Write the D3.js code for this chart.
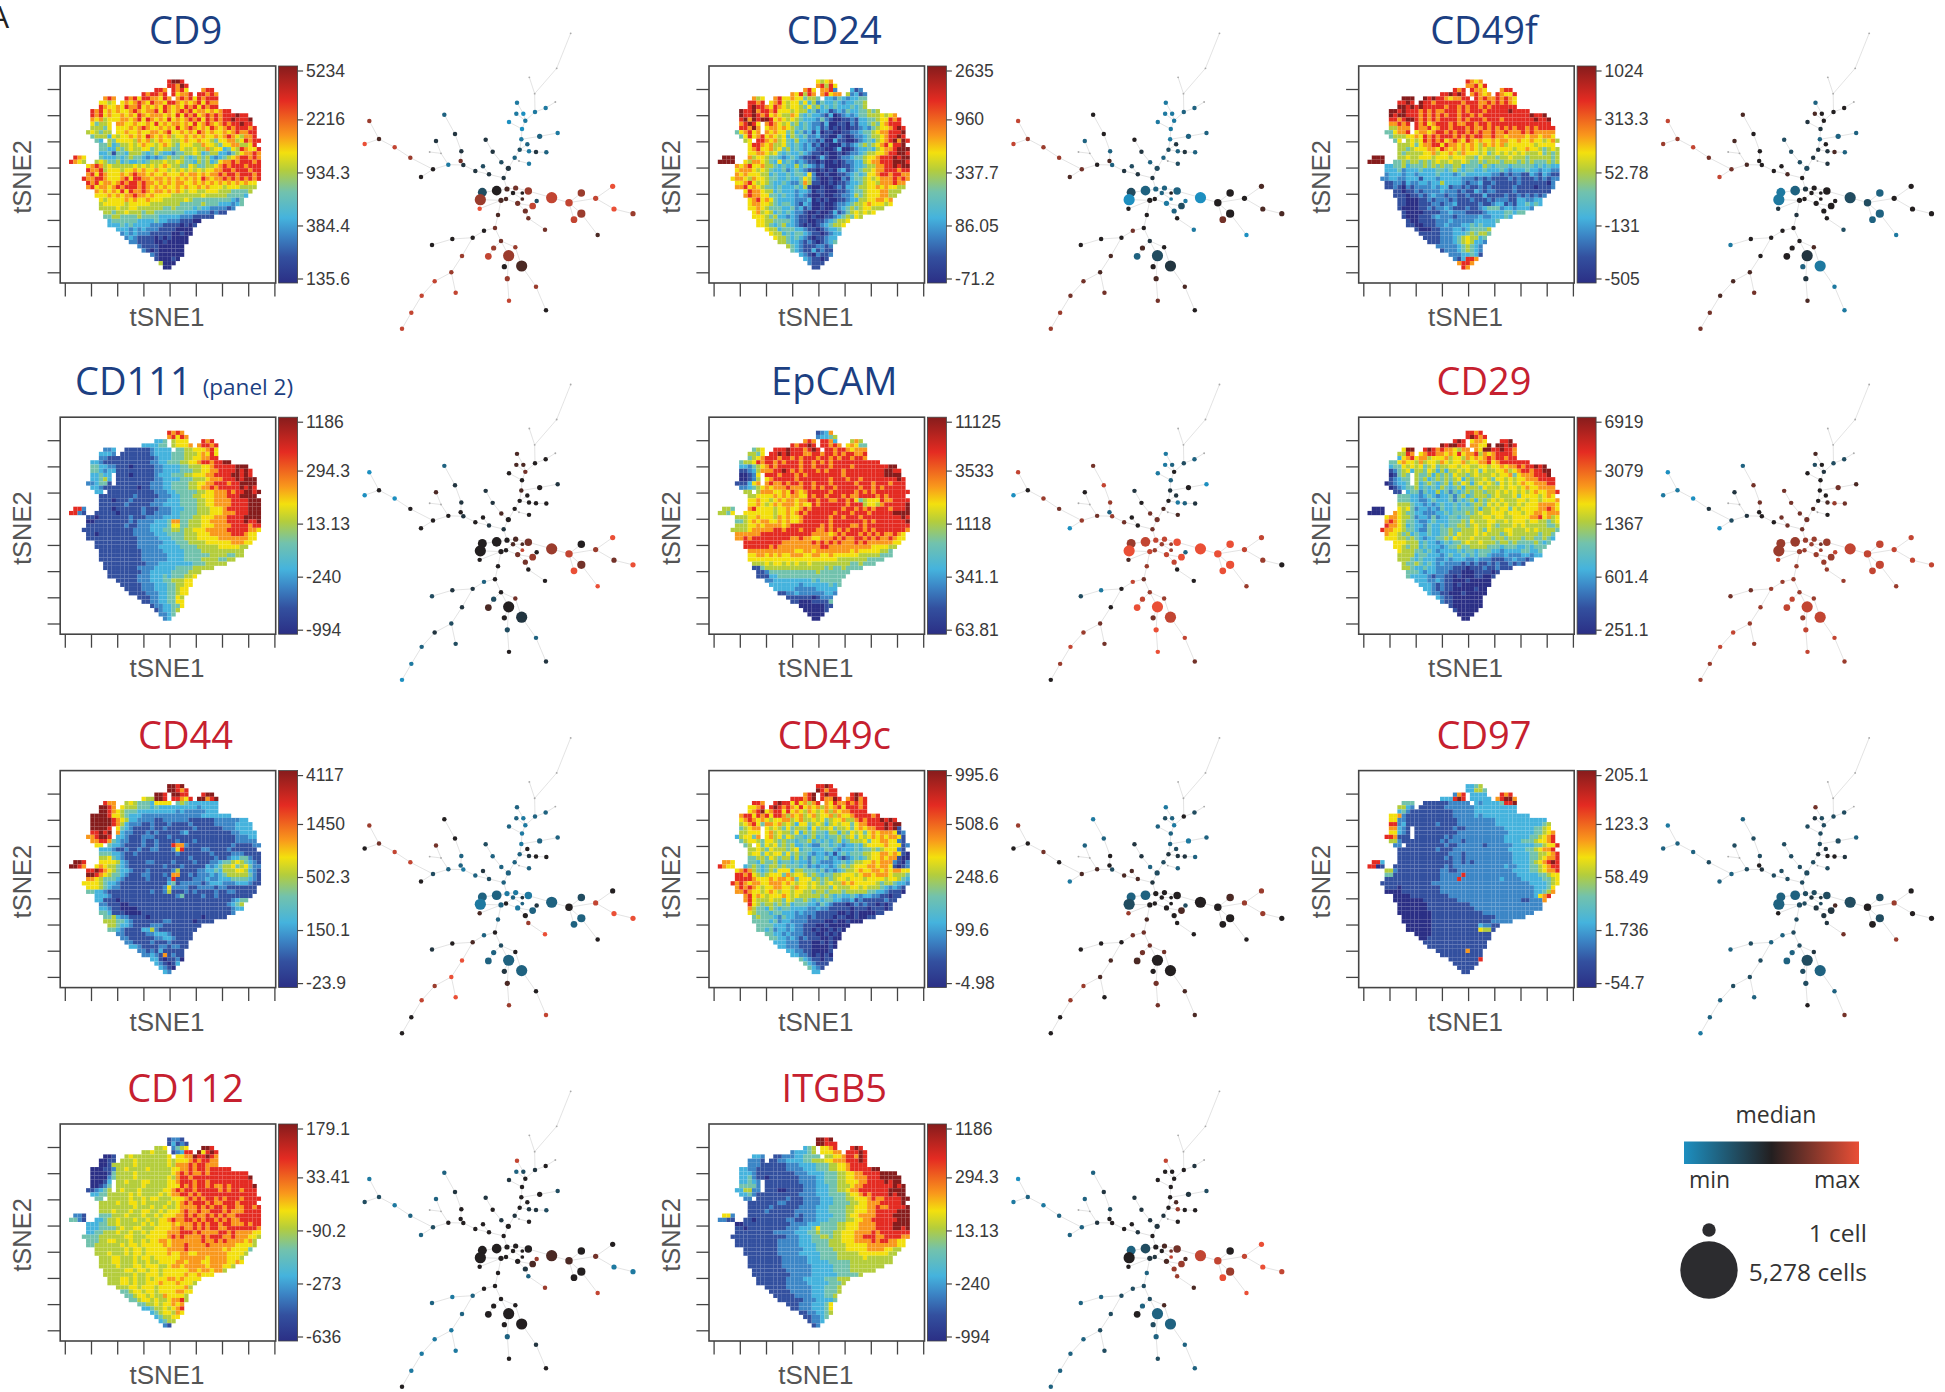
<!DOCTYPE html>
<html><head><meta charset="utf-8">
<script src="https://cdnjs.cloudflare.com/ajax/libs/d3/7.8.5/d3.min.js"></script>
<style>html,body{margin:0;padding:0;background:#fff}svg{display:block}</style>
</head><body><svg id="c" width="1945" height="1392"></svg>
<script>
const markers=["CD9","CD24","CD49f","CD111","EpCAM","CD29","CD44","CD49c","CD97","CD112","ITGB5"];
const titleIsRed=[0,0,0,0,0,1,1,1,1,1,1];
const colorbarLabels=[
["5234","2216","934.3","384.4","135.6"],["2635","960","337.7","86.05","-71.2"],["1024","313.3","52.78","-131","-505"],
["1186","294.3","13.13","-240","-994"],["11125","3533","1118","341.1","63.81"],["6919","3079","1367","601.4","251.1"],
["4117","1450","502.3","150.1","-23.9"],["995.6","508.6","248.6","99.6","-4.98"],["205.1","123.3","58.49","1.736","-54.7"],
["179.1","33.41","-90.2","-273","-636"],["1186","294.3","13.13","-240","-994"]];
const colorbarFractions=[0,.235,.49,.745,1];
const xTickValues=[-40,-30,-20,-10,0,10,20,30,40];
const yTickValues=[-40,-30,-20,-10,0,10,20,30];
const heatPalette=["#2b2f85","#33509f","#3c86c6","#45b3dd","#72c2ad","#b4cd3c","#f3e00e","#f9981c","#e42b22","#861c1c"];
const barStops=[0,.12,.22,.30,.42,.52,.60,.68,.84,1];

// occupied columns of the tSNE map, row by row
const mapSegments=[[[23,26]],[[23,27]],[[20,22],[24,27],[31,33]],[[17,22],[24,28],[30,34]],[[8,10],[13,23],[25,34]],[[7,10],[12,24],[25,34]],[[7,34]],[[5,37]],[[5,41]],[[5,42]],[[5,9],[11,42]],[[5,9],[11,43]],[[4,9],[11,43]],[[5,43]],[[6,7],[9,44]],[[7,43]],[[7,44]],[[7,44]],[[1,3],[7,44]],[[0,3],[6,44]],[[4,44]],[[4,44]],[[4,44]],[[3,44]],[[4,43]],[[4,43]],[[6,42]],[[6,41]],[[7,40]],[[7,40]],[[7,38]],[[8,36]],[[8,33]],[[9,30]],[[9,29]],[[11,28]],[[12,28]],[[13,27]],[[14,27]],[[16,26]],[[17,26]],[[19,26]],[[20,25]],[[21,24]],[[22,23]]];

const heatCD9=["8998","88798","88778786677788","878878986778988787","787668786887768777878687888","656767678768776887676786877","8766768778676768767687868788","878676766787677868767878677676788","8786766767687677767686878678787888988","76756667767868767686767878687878898889","64556677667667686767767686787678788988","55465666767876676768678767687678788878","5654556667667667767866767687676676787788","455536566767687676756676767667678765778","432546666576756766556766766546677568788","4453455656766567654666557665466775568","44335456556645655446556557566346587668","33414435554345433244556534553324567787","87644443334345443232345445434545323456788787","876555565445343343455565565443545346778788878","67875655555656565676554465445567878887888","87785666566767667665656565656677887888788","78687666767877676676667677676778788788878","877887666786887767767676767687677878787878","8786776787887877676767766767676767676766","7867767878887876767667676676766656665555","7676768687787677676765665566655544445","666767677877676666555555565555544443","6566667676676665555565444444444324","5666665666665555555444445444333234","55556556655555544544443433222212","55455655545544444443332221211","44554444544443333322211111","3444444333343322211100","333434333322211110101","333232322211110000","23232221111100100","232111101010000","22111100100000","21111000000","2101000000","21000000","100010","5000","00"];
const heatCD24=["6567","78586","78637782213312","768587678677652312","756887866766455433324323344","878867865664635243343233445","8988768765665464534343334345","988978878666565534233123243344545","9889878676557643433213012323445556567","89798998676565433324210011213344566878","78986878765645343221300110213345467888","87978677676543432312010101123245667898","4678678767664534231301100112234456778889","468678676563543422311002101223455678898","567887675643533221200311001234356789798","6887675564343231201000212345456786889","67866756453432321100130012334356778999","66776564343343211010010122345566788998","99977675665443234321101310012234456678889899","999988657765436343232110100101223356778889998","76786675543433534321200001123345577889899","67776565433423432110101023123455677888788","76766655343343443620010011234346678878877","677657665443343346521001002134456567778787","6678656543343224751100101123345665777877","7786765443433343510010012133455667676655","6877655343332332011000112344566677555","787766443433232100100112235456667755","6786764333322230101001123355667767","6776654344321320010012234556766656","66765444334231200100123454566555","67565343432210010013124565656","66654533232110100112345465","6655444432110011234556","665434533210101234556","655344433211012334","65534344321101233","655434321011233","55433212101234","54321112212","4321131211","32102112","321101","2111","11"];
const heatCD49f=["8767","77868","87888776788788","889898778767787668","999889898876778878787787876","898998878888887888778787876","9989898888878878788787888888","998988878787788878788878888898888","9899888787878788788787888888888889889","88789987878788887878887888788888889889","77878887867888787788788788888888888888","57777877867887888787787878787887878888","467787677678878788787877877877787877777","455566768787888787878877877677776776776","464565687878678768767667677667667665675","5556467788687767676576767566666656666","55456667768767676765655666656676654565","54555566756676576665645656565655564545","99945555655666566656665546555455655545555545","999944445455454565565565445455545554545444545","33445344454545445534443543444344444343433","33342333433344345434433433343233343323322","23332332333343332343333332212122113213211","223322333133323333322212121111212111212122","1122132233233533332122311211111211111102","1121021222232331221211212111112111101112","1101121222232221211321221111211111111","111011212322122112111311112112121212","1100011212221211121112122211332233","1100011122122311111211233121334343","10000112122321112112344423323332","10000111122322211112333344344","10001112322212222232233343","1001111222322222333334","110011122322233434333","100011222332344445","11111222333454554","111122234565534","11122234565332","22222345432","1222345432","22233431","213887","7887","87"];
const heatCD111=["8787","78687","33455666788878","333344556667678878","23211111112333344455666786","33211111111233344455567686","2211111111111233344455667788","332111111111112233444556678878899","43322111011111223334455566788888999","432331111111112233344455667788889898","3433211101111123334445566677888899898","3453211111111122333444555677788898999","23441111111111222334445566778887889999","32111111110112223344445567787888889898","3311111111111222334444556677787889989","1111111211112223344455667778889999","1101112111122233344455667778888999","1111121111222333344455667778888999","82111111011111211122233344455666788888999","821111111101111211222233444455666777888999","101111111211122223334445566677788889999","011111111212222333474455566777788889889","111111112112223333464455566677778888788","1111111111122223334454556667777788888776","10111111112222233344455566677777888766","1111111111122223334445556666777777766","11111111222223334445556666677766","111111112222333344445555666655","11111112222333344455555555","111111122223334444555455","11111112222333444555455","111111122333333445555","11111122233334445555","111111223333444555","11111222334344556","1111222334455566","111122233445566","11122233344566","1112223344566","11122334465","1122334466","12233446","123345","2234","23"];
const heatEpCAM=["1237","23345","78788873645575","878898788787867644","456888889888789878878876777","546788989888778878878788778","4567888788787888788787887887","45568788787888788878787888888888888","32456787888887887887888878888888899","1235777889878788878788878888888889988","0126788878887878888888878888888889999","0125767888887888888788878878888888898","1136767877878788788878888788878887888","234567677787788787887888878878788888","5657776768767888878888787878888888","5666676767768788788878788887878888","6766567676778878878878645668778888","6765676776766878888878885657888889","5467778666656676678788888887887878788878889","5466666666665667678788888788878887888889999","55667666576767888888788788788888888898","45676776676767888888788888878788888889","55667677776788888878788887878888888888","555677777887887888778787878878788888887","7777788888888888777767878878787877876","7878888888887877667778787887878778766","8888888877777787878787787877777766","8888878777777777787777777777666655","7777777777677677777776766666554","6776767667766776676666655555444","6666666666666666665555554444","556565656565555555545444","1455555555555545454444","124444444444454444444","1133444444444444444","2333333334344444","333333233333434","33332222233333","1223222222332","11111101222","1100011114","00000011","000001","0000","00"];
const heatCD29=["8878","89878","89866776789889","989988677669899898","699778987877657767699889887","587767887767686778576788887","3678677566675665767678788788","446766575665765667566778678888888","3446565645645566566556656676778788989","12456355465353556565646556675678878899","01454654453545465545655565667467778889","123443545345454563545565466565667778888","0123345534543453546535656546565676677788","012344534343543453555465556566567667777","113344243353424345455455656565656766778","4443323432334245345554565556466665676","44433223433342434535456565556656656667","55543323234334343455465656556566677776","00055565642332324334344453556566465666677876","000055765443322233434445456556665666566776777","67765542332423344344555665665566667786756","78765443223433344454655566556566656655456","87765343324334344554565565455565655555445","877665443224334454455565465556655565655554","7665453433433445465556565554565555554554","6665545432334454655565555455455545544543","6665553433234344565565554554544445434","665455343332344544555544434443343444","6555443432333343443444332333344334","5555344333234334343443222322233233","55543433322323332232221112232212","54454343232222121211212112121","55433433222211101112112111","4443233222111000111101","433332122110100011001","333223211000100000","33321211010000000","332121100000100","32211000100000","32110000000","2110000000","10000000","100000","0000","00"];
const heatCD44=["9989","99878","99879988779899","655998988768899789","877655654443666654543333333","987765554443433333333323333","9987654443333333332322222333","99998665433322222222222222233333333","99998765332222112222211111122222233","9999875322211211121111211111222223333","9998864321111211211111121111112223333","8989873221112121111231111111111223333","7899883321112211121111111111111122233","78874322111211211112111211111111122222","6743321111211211187211111111112111122","3321121121121112681111211112111111","4433211211111111211111121112221111","5643211111111111112111112123344211","986676665321111211112111211122345654321","9876667654321111111211121111323456456422","898765432111211112511122334355665321","98765432111211121711212232345555421","7654432111121112811122232333444321","66654321111111113412222123322233211","6654321111111112622211222122111111","4332111111112112511212111211211111","332111111111111241112121111111","311101111111111111111111112344","2111011111111111111111112345","3211000111111111111111111233","431100011111111111111112","4532111011111111101111","5543211111211110111","5432111221111111","4321113521111111","2111123321111","211112232111","21112112111","3211121211","2121311111","232171211","33101120","321013","3210","32"];
const heatCD49c=["8898","98788","78988988779898","888789887798978978","887678988686757887687787878","678689878768676757678688878","6789678868676576567576778888","788687868875767567566757667888878","6787676566775675565645667557878889898","56786477675653664565356566467788889899","45677465654645553645564556467677889891","556664675655463545443553546564676777612","3566476675646544345343445456465676767761","456654665454434453434345345556466776621","456646564545334322443432334356666766612","5565465554563443334432333434454566621","56646566464544323323134344455667767610","44554654553534243342321234345667677100","77666644354453443433243222334345566767772102","876655345434554544434232332345456667767761012","67875434546663554443423234556766776767766","88786545666475665454344556665677677765554","88887666767767466645454566566656666566543","878767766777676566565456557676666654554332","7878765667766576656555465556656555432321","7787665676566566554554555455555443321110","7867656667656555554543433432332211011","786555655465445434344332231211111211","8654554545344433243211101212110101","7544354344333322322111110111011101","65444344333232221111100101000011","45444324332221211110110010011","44443423322221111001001000","4444333232211100100000","443423323221101001010","443323222111001010","44332321211100100","333222111001010","33222111000010","33221100001","3322101010","43211011","432111","4321","33"];
const heatCD97=["3345","33554","27833333389878","333898233333778997","4431111111222223233334889","53211111112222223333333333","3421111111111222223333333333","67211111111111222223233333333333","62211111111111122222222333333333333","82311111112111222222222333333333345","73211111111112112222222233333334456","63211111111111222222222223333344567","871111111111212222222222233333445678","5211111111121222122222222333344456678","21111111112112222212222223333445668","11111111211122222222222233334456778","11111111111221222222222233334455678","1111111112122122222222223334456778","83111111111111111221212222222233334567898","80111111111111112122222222222323334456788","52111111111121122222222222233334456778","411111111112222822222222222333344566","111111111122282222222322233334456","11111111112222222222222222222333456","1101111111122222222222222222233346","0001111111122222222222222222233457","00011111111222222222222222223678","00000111111122222222222212227","00000111111112222222222222","0000011111111222222222222","000001111111122222222","0000111111111122222","0000011111111112222","0000111111113211","00001111111651","00011111111111","0111111111111","111111111111","111111111111","1111117111","1111111111","11111118","111111","1111","11"];
const heatCD112=["1221","13121","55652456678998","556555612388996898","0125565555555656677988987","0115555655555565667878877","0015555565555555657778788777","0011255655556555566778788788888","0001455556555555567878787888888888","00024555565555556578878888888888889","00134556555655556678887878888888888","01245555556555556687878878787888889","1234555655565555667878878888787887888","344555556565556567788787888888888888","445555655656555667878787878878888","55565565655556567878878778878888","5555556556556567778787878878878","5565565565565667878778878778888","21734445556556556566778787878787888888","42133345565565565667878878787878788888","3344565555656566767787878788778788","3344456556555666778787878778888887","3445565565656667778878777887877766","44455555665566667878777878877877665","445565556565667677777787878777675","45555565656666767787778777776665","55555656566667778777777676664","5565565656666767767777776665","556556565666677776777665","55655656566676776777676","556556566567677767765","5556565656666767675","55556566566676766","5565656566767666","556565667667665","5565665666675","456565666766","45656576665","4565656785","4556566767","345565678","34566576","345566","3455","21"];
const heatITGB5=["9989","99888","34566678889898","233345566677888898","3221112223344455566788798","2211112233344555677788898","22111111222333444556678888","32211111112222333444556678888899","33211111111122233344455667788889999","34211011111122223344455677788899999","34321111111122223344455667788889899","44421111111112223344555677888888989","355221111011112223344556778888889999","3421111111112223334445667878889899","21111111211222333445566787788899","11111121111222333444556677888889","11112111112223334445566778788889","11121111122223334445566778888999","6211111111111112122233344456677788889999","2111111011111122122233344455667788888999","0111111111122223334445566677788889999","1011111111222333464445566677788889989","1111111122223334454455666777878888888","11111111111222333445455666778877888877","111111111222233344455566677787887766","111111112222333444555666677777766","1111112222233344455566667776655","11111122223333444555566666655","11111122223334445555655555","1111122223334445555555","11111222233344455555","1111122223334445555","111112223334445","11112223334455","1111222333445","111222233445","11122233445","1112223345","11122334","11223346","1223346","122345","12234","1223","12"];
const heatGrids=[heatCD9,heatCD24,heatCD49f,heatCD111,heatEpCAM,heatCD29,heatCD44,heatCD49c,heatCD97,heatCD112,heatITGB5];

// shared tree layout
const treeX=[692,650,584,568,646,585,617,531,529,550,556,507,546,544,599,653,562,539,567,588,619,524,567,537,505,484,458,437,491,447,429,406,370,362,364,345,313,325,288,303,269,279,243,211,164,117,88,74,427,470,421,419,501,527,565,519,547,483,498,547,533,578,590,556,565,615,635,687,724,767,818,822,879,724,702,773,474,465,432,398,337,276,366,334,284,245,214,186,347,483,461,526,445,506,545,493,502,507,588,618];
const treeY=[40,145,221,172,246,276,264,248,281,281,302,306,327,358,349,339,373,389,394,396,397,413,431,423,445,427,395,359,474,463,439,453,435,423,394,342,284,434,363,400,396,448,471,413,382,357,303,372,517,512,539,566,507,504,513,519,519,541,537,537,550,558,543,573,595,629,533,548,519,535,499,567,581,581,599,645,585,624,632,653,657,675,708,757,784,827,878,926,818,663,684,682,709,707,738,740,776,842,800,871];
const treeSize=[2.5,2.5,2.5,2.5,2.5,6,6,6,6,6,6,6,6,6,7,6,6,6,6,6,6,6,6,2.5,7,6,6,6,6,6,6,6,6,6,6,6,6,6,6,2.5,2.5,6,6,6,6,6,6,6,12,13,15,6,7,7,10,6,5,7,6,5,7,9,6,7,6,6,15,10,10,7,7,7,7,11,9,6,6,6,6,6,6,6,6,6,6,6,6,6,6,6,7,6,9,15,15,7,7,6,6,6];
const treeEdges=[[0,1],[1,2],[3,2],[2,5],[5,6],[6,4],[5,10],[10,9],[9,7],[8,10],[10,12],[12,11],[12,13],[13,14],[14,15],[13,17],[17,16],[17,18],[18,19],[19,20],[17,21],[21,24],[21,23],[23,22],[24,28],[24,25],[25,26],[26,27],[28,29],[29,30],[29,31],[31,32],[32,33],[33,34],[34,35],[35,36],[32,37],[37,39],[39,38],[39,40],[37,41],[41,42],[41,43],[43,44],[44,45],[45,46],[45,47],[28,52],[52,49],[49,48],[52,53],[53,54],[54,66],[66,67],[67,68],[67,69],[69,70],[69,71],[71,72],[67,73],[73,75],[67,74],[52,55],[55,56],[55,59],[55,58],[58,57],[57,50],[57,51],[58,60],[60,63],[63,64],[64,65],[60,61],[61,62],[57,76],[76,77],[77,78],[78,79],[79,80],[80,81],[79,82],[82,83],[83,84],[84,85],[85,86],[86,87],[83,88],[77,89],[89,90],[90,92],[89,91],[91,94],[94,98],[98,99],[89,93],[93,95],[93,96],[96,97]];

const medianCD9=[0,0,0,0,0,-4,-4,-4,-4,-5,-4,-5,-5,-4,-3,-4,-3,-2,-4,-1,-3,-3,-4,0,-1,-2,-1,-1,-1,-1,-2,-1,-1,2,-1,-1,-3,-4,-1,0,0,0,0,3,4,1,3,5,-2,0,3,5,1,2,3,0,0,1,1,1,2,4,-2,2,2,2,4,4,3,4,5,5,3,3,4,1,1,2,0,0,0,0,3,3,4,4,4,4,4,2,3,3,4,3,1,0,3,4,3,0];
const medianCD24=[0,0,0,0,0,-3,-3,-4,-4,-4,-4,-4,-4,-4,-3,-3,-1,-2,-3,-1,-3,-3,-2,0,-2,-3,-1,0,-1,-1,-2,-1,-3,1,-3,0,0,0,-3,0,0,2,1,3,3,3,4,4,-2,-3,-5,0,-3,-3,-3,-3,0,0,0,-4,-4,-2,-4,-3,0,-4,-5,0,0,0,1,1,1,0,2,-5,0,0,2,0,0,0,1,1,2,2,3,3,2,-1,1,0,-3,-2,-1,0,1,2,1,0];
const medianCD49f=[0,0,0,0,0,0,0,-3,1,0,0,-1,-1,-3,-3,-3,0,-1,-1,1,-3,-1,-1,0,-2,-2,-2,-2,0,1,0,0,0,0,0,0,1,1,1,0,0,2,4,2,4,3,4,3,-4,-3,-4,-1,-1,0,0,0,0,0,0,0,0,0,0,0,0,-2,-2,-2,-3,0,0,0,0,-3,-3,-4,-1,0,0,0,0,-4,0,1,1,1,2,2,2,0,0,1,0,-1,-4,-3,-1,1,-4,-4];
const medianCD111=[0,0,0,0,0,0,0,1,1,1,2,0,0,1,0,-1,0,0,0,0,0,0,0,0,0,1,-1,-1,-1,-1,0,0,-1,0,-1,-1,-3,0,1,0,0,0,0,0,-5,0,-5,-5,0,0,0,0,0,1,2,1,1,0,0,4,2,3,0,2,0,0,3,4,0,3,5,2,5,2,5,5,0,0,-3,-1,-1,-2,-1,-2,-1,-3,-4,-5,-2,0,-2,2,1,0,-1,0,-2,0,-3,-1];
const medianEpCAM=[0,0,0,0,0,-2,-3,-4,-4,-3,0,-4,-3,-1,0,-5,-1,0,-4,-3,-1,1,1,0,2,2,0,-1,2,0,0,2,3,-3,3,4,2,2,0,0,0,3,-5,2,3,0,4,-5,3,4,5,1,4,4,5,3,3,4,3,3,4,5,-3,4,0,0,5,5,5,4,4,3,0,5,5,3,3,2,4,0,-4,-2,0,2,3,4,3,0,2,3,4,3,5,5,4,2,5,5,4,2];
const medianCD29=[0,0,0,0,0,-2,-2,1,-2,0,-1,0,0,0,2,1,0,0,1,3,2,1,0,0,2,2,2,2,2,2,2,0,0,0,2,2,-3,-1,-1,0,0,-2,-5,-1,-5,-4,-5,-4,3,3,3,4,3,3,3,3,2,3,3,3,3,3,4,3,3,3,4,4,4,4,4,4,4,4,4,3,3,3,3,3,2,2,3,3,4,4,3,3,3,3,4,3,4,4,4,3,4,4,4,3];
const medianCD44=[0,0,0,0,0,-3,-3,-3,-3,-4,-4,-3,-4,-4,-3,-3,0,-3,-1,0,0,-3,-3,0,-3,-3,-3,-2,-3,-2,-1,-3,-4,-3,-3,0,0,-3,2,0,0,-2,0,4,4,2,3,0,-3,-3,-4,1,-4,-4,-4,-3,-1,-3,0,-3,-4,-3,-1,0,3,5,-3,0,-2,4,0,5,5,-3,-3,0,-3,0,-3,1,0,-1,5,5,3,4,0,0,5,-2,-3,0,-3,-3,-3,-1,1,3,0,4];
const medianCD49c=[0,0,0,0,0,0,-2,-4,-2,-3,-4,-3,-3,-3,-4,-3,-2,-1,-1,-1,-3,-2,-3,0,-2,-3,-1,-1,-1,1,1,1,-2,0,0,-3,-4,1,-3,0,0,1,-4,0,2,0,3,0,-3,-3,-2,3,0,0,0,0,0,0,0,0,0,1,-2,0,0,0,0,0,1,3,3,3,0,0,0,0,1,2,2,0,0,0,1,1,3,3,0,0,0,2,2,2,1,0,0,0,2,2,1,1];
const medianCD97=[0,0,0,0,0,-2,-2,2,-1,-2,-2,-2,-2,-2,-2,-3,-1,-1,0,0,-1,-2,-2,0,-2,-2,-2,-2,-2,-2,-2,-2,-1,0,-2,-2,-3,-2,-2,0,0,-3,-3,-2,-3,-3,-4,-3,-3,-3,-3,0,-2,-2,-2,-1,-1,-2,-2,-2,-1,-1,1,-1,-1,2,-2,0,-2,3,0,0,0,-2,0,3,-2,-2,-3,-3,-2,-3,-2,-2,-2,-3,-3,-4,-3,-2,-3,-1,-3,-2,-3,-2,-2,0,-3,2];
const medianCD112=[0,0,0,0,0,-1,0,4,-3,-2,0,-1,0,0,0,-2,0,0,-1,-1,-2,-1,0,0,0,-1,0,-1,0,0,0,0,0,0,0,-1,-3,0,-3,0,0,-2,-3,-3,-4,-2,-4,-2,0,0,0,0,0,0,0,0,0,0,0,0,0,1,3,-1,-3,3,1,1,0,2,0,-4,-4,0,0,4,0,0,0,-3,-4,-3,-3,-4,-4,-4,-4,0,-4,0,0,0,0,0,0,0,-3,0,-1,0];
const medianITGB5=[0,0,0,0,0,0,-1,4,0,0,0,0,0,0,-1,-2,1,0,3,0,0,-1,0,0,-1,-1,-1,-1,0,-1,0,0,0,0,-2,-1,-3,-1,-3,0,0,-3,-3,-3,-4,-3,-5,-4,-3,-2,0,0,0,1,2,0,2,-1,-1,4,1,3,1,3,3,1,4,4,0,4,5,5,4,3,5,5,-3,-2,-2,-2,-3,-3,-2,-2,-3,-3,-3,-3,-2,-2,-3,1,0,-3,-3,-2,-3,-2,-3,-3];
const medians=[medianCD9,medianCD24,medianCD49f,medianCD111,medianEpCAM,medianCD29,medianCD44,medianCD49c,medianCD97,medianCD112,medianITGB5];
const legendSizes=[{label:"1 cell",r:6.7,cy:1230,y:1242},{label:"5,278 cells",r:28.7,cy:1270,y:1281}];

const colOffset=[0,648.8,1298.5], rowOffset=[0,351.2,704.6,1058];
const AXIS="Liberation Sans, Arial, sans-serif", TITLE="'Open Sans', sans-serif";
const svg=d3.select("#c");
const defs=svg.append("defs");

const gridX=d3.scaleLinear().domain([0,45]).range([69,261]);
const gridY=d3.scaleLinear().domain([0,45]).range([79.5,269.5]);
const tickX=d3.scaleLinear().domain([-40,40]).range([64.8,274.4]);
const tickY=d3.scaleLinear().domain([-40,30]).range([272.3,89]);
const treeScaleX=d3.scaleLinear().domain([0,960]).range([340,660]);
const treeScaleY=d3.scaleLinear().domain([0,960]).range([20,340]);
const treeRadius=d3.scaleLinear().domain([0,3]).range([0,1.12]);
const treeColor=d3.scaleLinear().domain([-5,0,5]).range(["#1d8fc0","#231f20","#ea4f36"]);

const grad=defs.append("linearGradient").attr("id","bar").attr("x1",0).attr("x2",0).attr("y1",1).attr("y2",0);
barStops.forEach((s,i)=>grad.append("stop").attr("offset",s).attr("stop-color",heatPalette[i]));
const lg=defs.append("linearGradient").attr("id","med");
treeColor.domain().forEach(d=>lg.append("stop").attr("offset",(d+5)/10).attr("stop-color",treeColor(d)));

function cellsFor(grid){
  const out=[];
  mapSegments.forEach((segs,r)=>{
    const first=segs[0][0], last=segs[segs.length-1][1], row=grid[r];
    const pick=d3.scaleQuantize().domain([first,last+1]).range(row.split("").map(Number));
    segs.forEach(([a,b])=>{
      for(let c=a;c<=b;c++) out.push({c,r,d:pick(c+.01)});
    });
  });
  return out;
}

markers.forEach((name,i)=>{
  const g=svg.append("g").attr("transform",`translate(${colOffset[i%3]},${rowOffset[Math.floor(i/3)]})`);
  const t=g.append("text").attr("y",44).attr("font-family",TITLE).attr("fill",titleIsRed[i]?"#c6202f":"#1c3f82").attr("font-size",38);
  if(name==="CD111"){
    t.attr("x",75).text(name);
    t.append("tspan").attr("dx",11).attr("font-size",22.5).text("(panel 2)");
  } else t.attr("x",185.5).attr("text-anchor","middle").text(name);

  // tSNE map
  g.append("g").selectAll("rect").data(cellsFor(heatGrids[i])).join("rect")
    .attr("x",d=>gridX(d.c)).attr("y",d=>gridY(d.r)).attr("width",4.3).attr("height",4.25)
    .attr("fill",d=>heatPalette[d.d]);
  g.append("rect").attr("x",60.2).attr("y",66).attr("width",215.5).attr("height",217)
    .attr("fill","none").attr("stroke","#444").attr("stroke-width",1.6);
  const ax=g.append("g").attr("transform","translate(0,283)").call(d3.axisBottom(tickX).tickValues(xTickValues).tickFormat("").tickSize(13.5));
  const ay=g.append("g").attr("transform","translate(60.2,0)").call(d3.axisLeft(tickY).tickValues(yTickValues).tickFormat("").tickSize(12.6));
  [ax,ay].forEach(a=>{a.select(".domain").remove();a.selectAll("line").attr("stroke","#444").attr("stroke-width",1.3);});
  g.append("text").attr("x",167).attr("y",326).attr("text-anchor","middle").attr("font-family",AXIS).attr("font-size",26).attr("fill","#555").text("tSNE1");
  g.append("text").attr("transform","translate(31,177) rotate(-90)").attr("text-anchor","middle").attr("font-family",AXIS).attr("font-size",25.5).attr("fill","#555").text("tSNE2");

  // colour bar
  g.append("rect").attr("x",278.6).attr("y",66).attr("width",19).attr("height",217).attr("fill","url(#bar)").attr("stroke","#444").attr("stroke-width",.8);
  const barFrac=d3.scaleLinear().domain([0,1]).range([70.5,278.5]);
  const barY=d3.scaleOrdinal().domain(colorbarLabels[i]).range(colorbarFractions.map(barFrac));
  const by=g.append("g").attr("transform","translate(297.6,0)").call(d3.axisRight(barY).tickSize(5.5).tickPadding(3));
  by.select(".domain").remove();
  by.selectAll("line").attr("stroke","#444").attr("stroke-width",1.2);
  by.selectAll("text").attr("font-family",AXIS).attr("font-size",17.5).attr("fill","#3a3a3a");

  // tree
  g.append("g").selectAll("line").data(treeEdges).join("line")
    .attr("x1",e=>treeScaleX(treeX[e[0]])).attr("y1",e=>treeScaleY(treeY[e[0]]))
    .attr("x2",e=>treeScaleX(treeX[e[1]])).attr("y2",e=>treeScaleY(treeY[e[1]]))
    .attr("stroke","#dcdcdc").attr("stroke-width",.8);
  g.append("g").selectAll("circle").data(medians[i]).join("circle")
    .attr("cx",(d,k)=>treeScaleX(treeX[k])).attr("cy",(d,k)=>treeScaleY(treeY[k]))
    .attr("r",(d,k)=>treeRadius(treeSize[k]))
    .attr("fill",(d,k)=>treeSize[k]<3?"#aaa":treeColor(d));
});

// legend
const F=TITLE, L=svg.append("g").attr("fill","#333").attr("font-family",F);
L.append("text").attr("x",1776).attr("y",1123).attr("text-anchor","middle").attr("font-size",23).text("median");
L.append("rect").attr("x",1684).attr("y",1141.5).attr("width",175).attr("height",22.5).attr("fill","url(#med)");
L.append("text").attr("x",1689).attr("y",1188).attr("font-size",23).text("min");
L.append("text").attr("x",1860).attr("y",1188).attr("text-anchor","end").attr("font-size",23).text("max");
L.selectAll("circle").data(legendSizes).join("circle").attr("cx",1709).attr("cy",d=>d.cy).attr("r",d=>d.r).attr("fill","#2c2c2f");
L.selectAll("text.s").data(legendSizes).join("text").attr("class","s").attr("x",1867).attr("y",d=>d.y).attr("text-anchor","end").attr("font-size",24.5).text(d=>d.label);
svg.append("text").attr("x",9).attr("y",28).attr("text-anchor","end").attr("font-family",F).attr("font-size",31).attr("fill","#222").text("A");
</script></body></html>
